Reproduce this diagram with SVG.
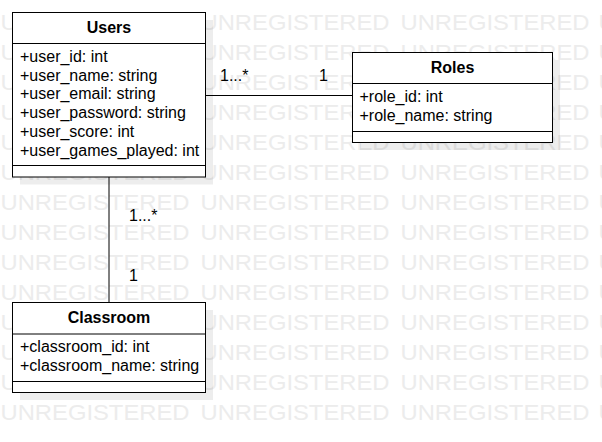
<svg xmlns="http://www.w3.org/2000/svg" xmlns:xlink="http://www.w3.org/1999/xlink" width="602" height="442" viewBox="0 0 602 442">
<style>
.wm{font-family:"Liberation Sans",Arial,sans-serif;font-size:22.5px;fill:#ececec}
.box{fill:#fff;stroke:#000;stroke-width:1}
.sh{fill:#000;fill-opacity:0.07}
.sep{stroke:#000;stroke-width:1}
.title{font-family:"Liberation Sans",Arial,sans-serif;font-size:16px;font-weight:bold;fill:#000;text-anchor:middle}
.attr{font-family:"Liberation Sans",Arial,sans-serif;font-size:16px;fill:#000}
.lbl{font-family:"Liberation Sans",Arial,sans-serif;font-size:16px;fill:#000}
.conn{stroke:#000;stroke-width:1;fill:none}
</style>
<defs>
<g id="wmrow">
<text class="wm" x="0.5" textLength="189" lengthAdjust="spacingAndGlyphs">UNREGISTERED</text>
<text class="wm" x="200.5" textLength="189" lengthAdjust="spacingAndGlyphs">UNREGISTERED</text>
<text class="wm" x="400.5" textLength="189" lengthAdjust="spacingAndGlyphs">UNREGISTERED</text>
<text class="wm" x="598.5" textLength="189" lengthAdjust="spacingAndGlyphs">UNREGISTERED</text>
</g>
</defs>
<rect width="602" height="442" fill="#fff"/>
<g id="watermark">
<use xlink:href="#wmrow" y="30"/>
<use xlink:href="#wmrow" y="60"/>
<use xlink:href="#wmrow" y="90"/>
<use xlink:href="#wmrow" y="120"/>
<use xlink:href="#wmrow" y="150"/>
<use xlink:href="#wmrow" y="180"/>
<use xlink:href="#wmrow" y="210"/>
<use xlink:href="#wmrow" y="240"/>
<use xlink:href="#wmrow" y="270"/>
<use xlink:href="#wmrow" y="300"/>
<use xlink:href="#wmrow" y="330"/>
<use xlink:href="#wmrow" y="360"/>
<use xlink:href="#wmrow" y="390"/>
<use xlink:href="#wmrow" y="420"/>
</g>
<g id="connectors">
<line class="conn" x1="206" y1="95.5" x2="352" y2="95.5"/>
<line class="conn" x1="109" y1="177" x2="109" y2="302"/>
<text class="lbl" x="220" y="80.7">1...*</text>
<text class="lbl" x="319" y="81">1</text>
<text class="lbl" x="129" y="220.7">1...*</text>
<text class="lbl" x="129" y="281">1</text>
</g>
<g id="users">
<rect class="sh" x="20" y="20" width="193" height="164.5"/>
<rect class="box" x="12.5" y="12.5" width="193" height="164.5"/>
<line class="sep" x1="12.5" y1="43.5" x2="205.5" y2="43.5"/>
<line class="sep" x1="12.5" y1="165.5" x2="205.5" y2="165.5"/>
<text class="title" x="109" y="32.5">Users</text>
<text class="attr" x="20" y="61.7">+user_id: int</text>
<text class="attr" x="20" y="80.5">+user_name: string</text>
<text class="attr" x="20" y="99.3">+user_email: string</text>
<text class="attr" x="20" y="118.2">+user_password: string</text>
<text class="attr" x="20" y="137">+user_score: int</text>
<text class="attr" x="20" y="155.9">+user_games_played: int</text>
</g>
<g id="roles">
<rect class="sh" x="360" y="60" width="200" height="90"/>
<rect class="box" x="352.5" y="52.5" width="200" height="90"/>
<line class="sep" x1="352.5" y1="83.5" x2="552.5" y2="83.5"/>
<line class="sep" x1="352.5" y1="131.5" x2="552.5" y2="131.5"/>
<text class="title" x="452.5" y="72.7">Roles</text>
<text class="attr" x="359.5" y="101.7">+role_id: int</text>
<text class="attr" x="359.5" y="120.6">+role_name: string</text>
</g>
<g id="classroom">
<rect class="sh" x="20" y="310" width="193" height="90"/>
<rect class="box" x="12.5" y="302.5" width="193" height="90"/>
<line class="sep" x1="12.5" y1="334" x2="205.5" y2="334"/>
<line class="sep" x1="12.5" y1="381.5" x2="205.5" y2="381.5"/>
<text class="title" x="109" y="323.3">Classroom</text>
<text class="attr" x="20" y="351.7">+classroom_id: int</text>
<text class="attr" x="20" y="370.6">+classroom_name: string</text>
</g>
</svg>
